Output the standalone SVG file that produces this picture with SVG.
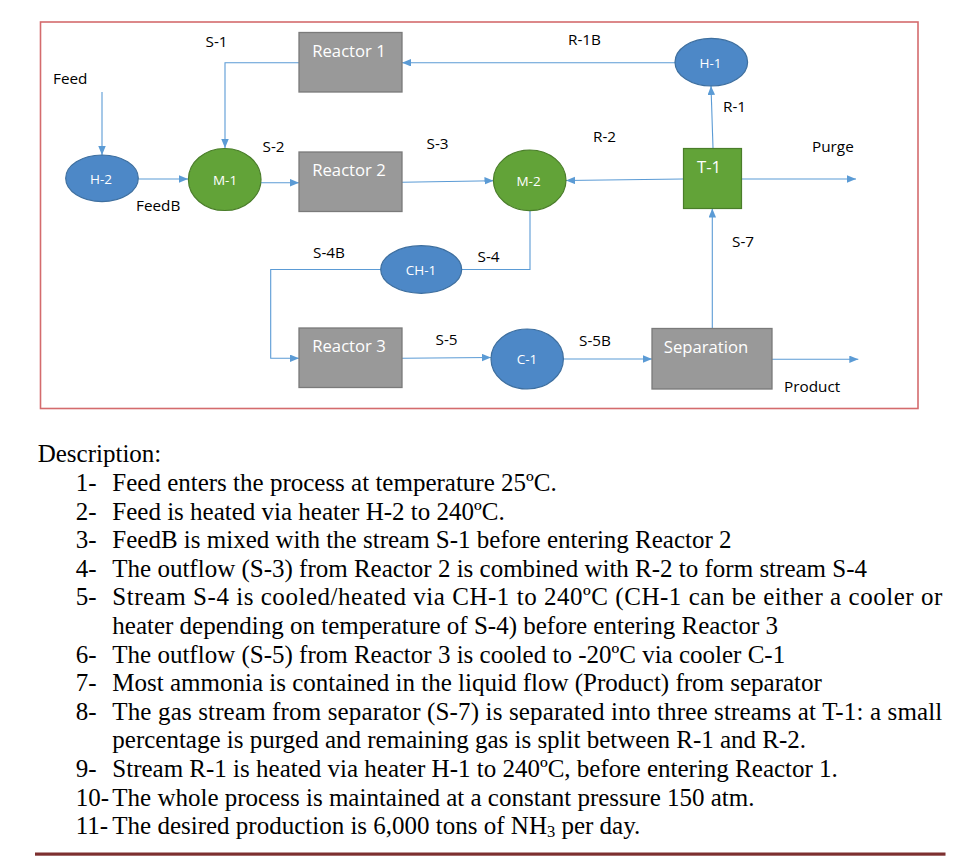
<svg xmlns="http://www.w3.org/2000/svg" width="959" height="856" viewBox="0 0 959 856">
<style>
.box{fill:#999999;stroke:#7a7a7a;stroke-width:1.3}
.blue{fill:#4d88c7;stroke:#3e6f9f;stroke-width:1.2}
.green{fill:#62a338;stroke:#4a7d2a;stroke-width:1.2}
.big{font-family:"Open Sans","Liberation Sans",sans-serif;font-size:16.7px;fill:#ffffff;text-anchor:middle}
.small{font-family:"Open Sans","Liberation Sans",sans-serif;font-size:13.5px;fill:#ffffff;text-anchor:middle}
.lbl{font-family:"Open Sans","Liberation Sans",sans-serif;font-size:15.3px;fill:#000000}
.conn path{fill:none;stroke:#5b9bd5;stroke-width:1.1}
.desc{font-family:"Liberation Serif","Times New Roman",serif;font-size:25px;fill:#000000}
</style>
<defs>
<marker id="arr" markerUnits="userSpaceOnUse" markerWidth="10" markerHeight="8" refX="9" refY="3.75" orient="auto">
<path d="M0,0 L9,3.75 L0,7.5 z" fill="#5b9bd5"/>
</marker>
</defs>
<rect x="40.5" y="22" width="877.5" height="386.5" fill="none" stroke="#d46b6d" stroke-width="1.6"/>
<g class="conn">
<path d="M102,92 V155" marker-end="url(#arr)"/>
<path d="M138.5,179 H188" marker-end="url(#arr)"/>
<path d="M299,62.7 H225 V148" marker-end="url(#arr)"/>
<path d="M261,182.7 H299" marker-end="url(#arr)"/>
<path d="M402,182.3 L493.5,180.7" marker-end="url(#arr)"/>
<path d="M675,62.7 H402" marker-end="url(#arr)"/>
<path d="M713,148 L711,86" marker-end="url(#arr)"/>
<path d="M683,179 L566,180.5" marker-end="url(#arr)"/>
<path d="M741,179 H856" marker-end="url(#arr)"/>
<path d="M530,210.5 V269.5 H461.5"/>
<path d="M380.7,269.5 H270.7 V358.3 H299" marker-end="url(#arr)"/>
<path d="M402,358.3 L491,357.5" marker-end="url(#arr)"/>
<path d="M563.3,359 H652" marker-end="url(#arr)"/>
<path d="M712.3,328 V208.5" marker-end="url(#arr)"/>
<path d="M772,359.3 H858.3" marker-end="url(#arr)"/>
</g>
<g id="reactor1"><rect class="box" x="299" y="32.5" width="103" height="59.5"/><text class="big" x="349" y="57">Reactor 1</text></g>
<g id="reactor2"><rect class="box" x="299" y="152" width="103" height="59.5"/><text class="big" x="349" y="175.5">Reactor 2</text></g>
<g id="reactor3"><rect class="box" x="299" y="328" width="103" height="59.5"/><text class="big" x="349" y="352">Reactor 3</text></g>
<g id="separation"><rect class="box" x="652" y="328.5" width="120" height="60.5"/><text class="big" x="706" y="353">Separation</text></g>
<g id="t1"><rect class="green" x="683.5" y="148.5" width="58" height="60"/><text class="big" x="709" y="173">T-1</text></g>
<g id="h2"><ellipse class="blue" cx="102" cy="178.3" rx="36.3" ry="23.3"/><text class="small" x="101" y="183.5">H-2</text></g>
<g id="m1"><ellipse class="green" cx="224.7" cy="179.5" rx="36.3" ry="31"/><text class="small" x="225" y="184.5">M-1</text></g>
<g id="m2"><ellipse class="green" cx="529.7" cy="180.3" rx="36.3" ry="30.3"/><text class="small" x="528.5" y="185.5">M-2</text></g>
<g id="h1"><ellipse class="blue" cx="711.3" cy="62.2" rx="36.3" ry="23.8"/><text class="small" x="710.5" y="67.5">H-1</text></g>
<g id="ch1"><ellipse class="blue" cx="421.2" cy="269.5" rx="40.5" ry="23.8"/><text class="small" x="421" y="275">CH-1</text></g>
<g id="c1"><ellipse class="blue" cx="527.2" cy="359" rx="36.2" ry="30"/><text class="small" x="527" y="364">C-1</text></g>
<g id="labels">
<text class="lbl" x="205.5" y="46.5">S-1</text>
<text class="lbl" x="53" y="84">Feed</text>
<text class="lbl" x="262.5" y="152.3">S-2</text>
<text class="lbl" x="426.5" y="149">S-3</text>
<text class="lbl" x="136" y="210.7">FeedB</text>
<text class="lbl" x="568" y="45">R-1B</text>
<text class="lbl" x="723" y="111.7">R-1</text>
<text class="lbl" x="593" y="142.3">R-2</text>
<text class="lbl" x="812" y="151.5">Purge</text>
<text class="lbl" x="313" y="258.3">S-4B</text>
<text class="lbl" x="477.5" y="261.7">S-4</text>
<text class="lbl" x="435.5" y="345">S-5</text>
<text class="lbl" x="579" y="346">S-5B</text>
<text class="lbl" x="732" y="247.3">S-7</text>
<text class="lbl" x="784" y="391.7">Product</text>
</g>
<g id="description" class="desc">
<text x="37.7" y="461.7">Description:</text>
<text x="75.7" y="491">1-</text><text x="112.3" y="491">Feed enters the process at temperature 25ºC.</text>
<text x="75.7" y="519.6">2-</text><text x="112.3" y="519.6">Feed is heated via heater H-2 to 240ºC.</text>
<text x="75.7" y="548.2">3-</text><text x="112.3" y="548.2">FeedB is mixed with the stream S-1 before entering Reactor 2</text>
<text x="75.7" y="576.8">4-</text><text x="112.3" y="576.8">The outflow (S-3) from Reactor 2 is combined with R-2 to form stream S-4</text>
<text x="75.7" y="605.4">5-</text><text x="112.3" y="605.4" textLength="830" lengthAdjust="spacing">Stream S-4 is cooled/heated via CH-1 to 240ºC (CH-1 can be either a cooler or</text>
<text x="112.3" y="634">heater depending on temperature of S-4) before entering Reactor 3</text>
<text x="75.7" y="662.6">6-</text><text x="112.3" y="662.6">The outflow (S-5) from Reactor 3 is cooled to -20ºC via cooler C-1</text>
<text x="75.7" y="691.2">7-</text><text x="112.3" y="691.2">Most ammonia is contained in the liquid flow (Product) from separator</text>
<text x="75.7" y="719.8">8-</text><text x="112.3" y="719.8" textLength="830" lengthAdjust="spacing">The gas stream from separator (S-7) is separated into three streams at T-1: a small</text>
<text x="112.3" y="748.4">percentage is purged and remaining gas is split between R-1 and R-2.</text>
<text x="75.7" y="777">9-</text><text x="112.3" y="777">Stream R-1 is heated via heater H-1 to 240ºC, before entering Reactor 1.</text>
<text x="75.7" y="805.6">10-</text><text x="112.3" y="805.6">The whole process is maintained at a constant pressure 150 atm.</text>
<text x="75.7" y="834.2">11-</text><text x="112.3" y="834.2">The desired production is 6,000 tons of NH<tspan font-size="16.5" dy="3">3</tspan><tspan dy="-3"> per day.</tspan></text>
</g>
<rect x="35" y="852.5" width="910.5" height="3.2" fill="#7d2f2f"/>
</svg>
